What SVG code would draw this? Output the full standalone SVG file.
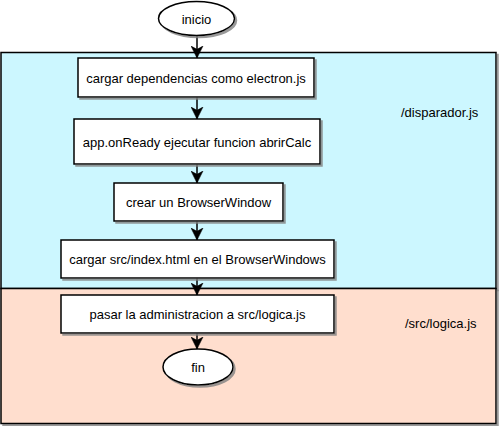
<svg xmlns="http://www.w3.org/2000/svg" width="499" height="426" viewBox="0 0 499 426">
<style>
.lane{stroke:#000;stroke-width:1.5;filter:url(#sh)}
.box{fill:#fff;stroke:#000;stroke-width:1.5;filter:url(#sh)}
.t{font-family:"Liberation Sans",Arial,sans-serif;font-size:13px;fill:#000;text-anchor:middle;dominant-baseline:central}
.lbl{font-family:"Liberation Sans",Arial,sans-serif;font-size:13px;fill:#000;dominant-baseline:central}
.c{stroke:#000;stroke-width:1.5;fill:none;marker-end:url(#ah)}
</style>
<defs>
<filter id="sh" x="-5%" y="-5%" width="115%" height="125%">
<feDropShadow dx="2" dy="2" stdDeviation="0.6" flood-color="#808080" flood-opacity="0.8"/>
</filter>
<marker id="ah" markerUnits="userSpaceOnUse" viewBox="0 0 12 12" refX="11" refY="6" markerWidth="13" markerHeight="13" orient="auto">
<path d="M0,0.5 L11,6 L0,11.5 L3,6 Z" fill="#000" stroke="#000" stroke-width="0.5"/>
</marker>
</defs>
<g id="lane-disparador">
<rect class="lane" x="1" y="52.5" width="495" height="236" fill="#CCF7FF"/>
<text class="lbl" x="401" y="112">/disparador.js</text>
</g>
<g id="lane-logica">
<rect class="lane" x="1" y="288.5" width="495" height="135" fill="#FFDECE"/>
<text class="lbl" x="405" y="323">/src/logica.js</text>
</g>
<g id="connectors">
<line class="c" x1="197" y1="36" x2="197" y2="58"/>
<line class="c" x1="197" y1="97" x2="197" y2="119"/>
<line class="c" x1="197" y1="164" x2="197" y2="183"/>
<line class="c" x1="197" y1="221" x2="197" y2="240"/>
<line class="c" x1="197" y1="278" x2="197" y2="295"/>
<line class="c" x1="197" y1="333" x2="197" y2="349"/>
</g>
<g id="inicio">
<ellipse class="box" cx="196.5" cy="18.5" rx="38" ry="17"/>
<text class="t" x="196.5" y="19">inicio</text>
</g>
<g id="n1">
<rect class="box" x="78" y="58" width="236" height="39"/>
<text class="t" x="196" y="78">cargar dependencias como electron.js</text>
</g>
<g id="n2">
<rect class="box" x="74" y="119" width="246" height="45"/>
<text class="t" x="197" y="142">app.onReady ejecutar funcion abrirCalc</text>
</g>
<g id="n3">
<rect class="box" x="114" y="183" width="169" height="38"/>
<text class="t" x="198.5" y="202">crear un BrowserWindow</text>
</g>
<g id="n4">
<rect class="box" x="61" y="240" width="273" height="38"/>
<text class="t" x="197.5" y="259">cargar src/index.html en el BrowserWindows</text>
</g>
<g id="n5">
<rect class="box" x="61" y="295" width="273" height="38"/>
<text class="t" x="197.5" y="314">pasar la administracion a src/logica.js</text>
</g>
<g id="fin">
<ellipse class="box" cx="198" cy="367" rx="35" ry="18"/>
<text class="t" x="198" y="367">fin</text>
</g>
</svg>
